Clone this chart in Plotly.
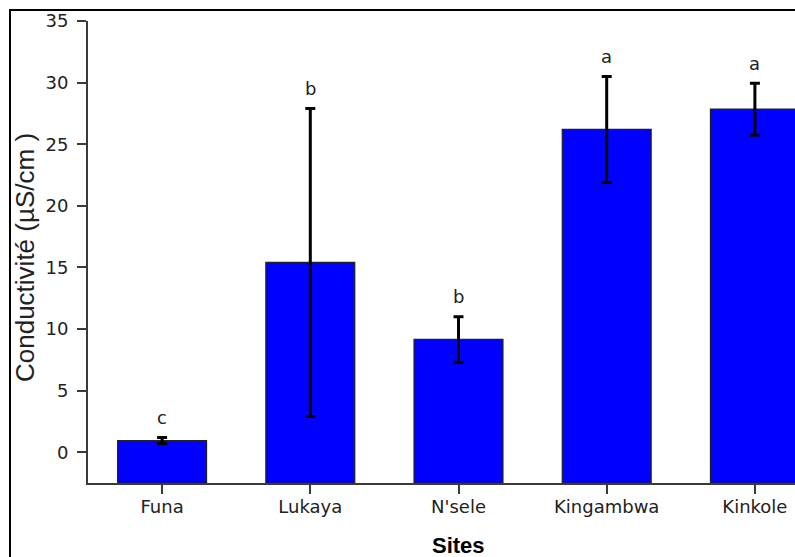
import plotly.graph_objects as go

# Mean conductivity per site with its error (µS/cm) and significance letters
sites = ["Funa", "Lukaya", "N'sele", "Kingambwa", "Kinkole"]
conductivite = [0.95, 15.4, 9.15, 26.2, 27.85]
erreur = [0.25, 12.5, 1.85, 4.3, 2.1]
groupes = ["c", "b", "b", "a", "a"]

y_ticks = [0, 5, 10, 15, 20, 25, 30, 35]
y_min, y_max = -2.5, 35

W, H = 840, 570
L, R, T, B = 88, 11, 21, 87
pw, ph = W - L - R, H - T - B

# bars rise from the bottom of the value axis
hauteur = [v - y_min for v in conductivite]

fig = go.Figure()
fig.add_trace(go.Bar(
    x=sites,
    y=hauteur,
    base=y_min,
    width=0.6,
    marker=dict(color="#0000FF", line=dict(color="#222222", width=1.2)),
    showlegend=False,
    hoverinfo="skip",
))

# error bars centred on the mean values
fig.add_trace(go.Scatter(
    x=sites,
    y=conductivite,
    mode="markers",
    marker=dict(size=1, color="rgba(0,0,0,0)"),
    error_y=dict(type="data", array=erreur, visible=True,
                 color="black", thickness=3, width=5),
    showlegend=False,
))

# significance letters above each error bar
for s, m, e, g in zip(sites, conductivite, erreur, groupes):
    fig.add_annotation(x=s, y=m + e, text=g, showarrow=False,
                       yshift=20, yanchor="middle",
                       font=dict(family="DejaVu Sans", size=18, color="#222222"))

# axis titles
fig.add_annotation(xref="paper", yref="paper",
                   x=(25 - L) / pw, y=(H - B - 258) / ph,
                   xanchor="center", yanchor="middle", textangle=-90,
                   text="Conductivité (µS/cm )", showarrow=False,
                   font=dict(family="Liberation Sans", size=26, color="#222222"))
fig.add_annotation(xref="paper", yref="paper",
                   x=0.5, y=(H - B - 545) / ph,
                   xanchor="center", yanchor="middle",
                   text="<b>Sites</b>", showarrow=False,
                   font=dict(family="Liberation Sans", size=22, color="black"))

# outer frame around the figure
fig.add_shape(type="rect", xref="paper", yref="paper",
              x0=(10 - L) / pw, x1=1.2,
              y0=-0.5, y1=(H - B - 10) / ph,
              line=dict(color="black", width=2), fillcolor="rgba(0,0,0,0)",
              layer="below")

axis_font = dict(family="DejaVu Sans", size=18, color="#222222")
fig.update_layout(
    width=W, height=H,
    margin=dict(l=L, r=R, t=T, b=B, pad=0),
    paper_bgcolor="white", plot_bgcolor="white",
    xaxis=dict(
        range=[-0.5, 4.5],
        showline=True, linecolor="#3a3a3a", linewidth=2,
        ticks="outside", ticklen=9, tickwidth=1.5, tickcolor="#3a3a3a",
        tickfont=axis_font, showgrid=False, zeroline=False,
        ticklabelstandoff=-3,
    ),
    yaxis=dict(
        range=[y_min, y_max],
        tickvals=y_ticks,
        showline=True, linecolor="#3a3a3a", linewidth=2,
        ticks="outside", ticklen=9, tickwidth=1.5, tickcolor="#3a3a3a",
        tickfont=axis_font, showgrid=False, zeroline=False,
        ticklabelstandoff=5,
    ),
)

fig.write_html(
    "out.html",
    post_script="document.documentElement.style.overflow='hidden';"
                "document.body.style.overflow='hidden';",
)
